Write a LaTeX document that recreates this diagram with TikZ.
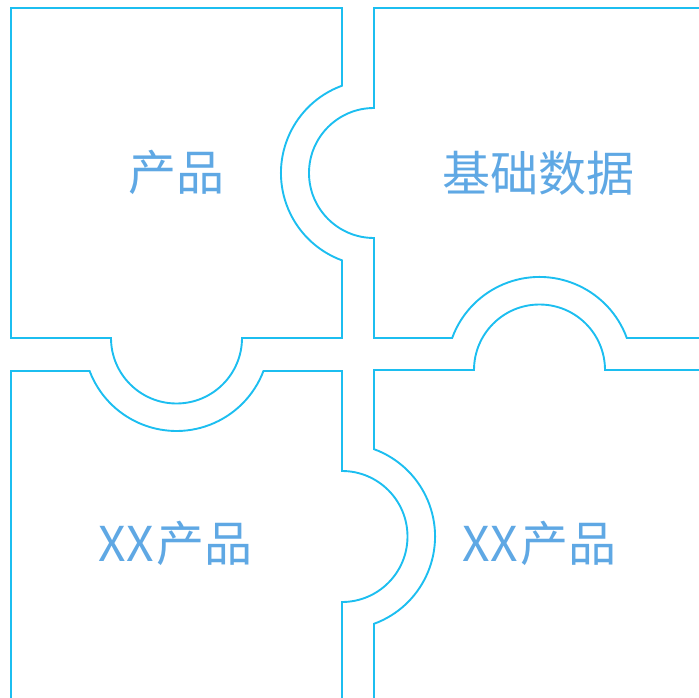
\documentclass[tikz,border=0pt]{standalone}
\usepackage{fontspec}
\newfontfamily\cjk{Noto Sans CJK SC}
\definecolor{edge}{RGB}{28,190,240}
\definecolor{label}{RGB}{95,168,228}
\tikzset{
  piece/.style={draw=edge, line width=1.9bp, line join=miter},
  lbl/.style={text=label, font=\cjk\fontsize{48bp}{56bp}\selectfont, inner sep=0pt, anchor=center}
}
\begin{document}
\begin{tikzpicture}[x=1bp,y=1bp]
\useasboundingbox (0,0) rectangle (699,-698);
\begin{scope}
\clip (0,0) rectangle (699,-698);
% top-left piece
\draw[piece] (11,-8) -- (342,-8) -- (342,-85.7)
  arc[start angle=110.1, end angle=249.9, radius=93] -- (342,-338) -- (242,-338)
  arc[start angle=0, end angle=-180, radius=65.5] -- (11,-338) -- cycle;
% top-right piece
\draw[piece] (374,-8) -- (720,-8) -- (720,-338) -- (626.8,-338)
  arc[start angle=20.1, end angle=159.9, radius=93] -- (374,-338) -- (374,-238)
  arc[start angle=-90, end angle=-270, radius=65] -- (374,-8) -- cycle;
% bottom-left piece
\draw[piece] (11,-371) -- (89.6,-371)
  arc[start angle=200.8, end angle=339.2, radius=93] -- (342,-371) -- (342,-471)
  arc[start angle=90, end angle=-90, radius=65.5] -- (342,-720) -- (11,-720) -- cycle;
% bottom-right piece
\draw[piece] (374,-370) -- (474,-370)
  arc[start angle=180, end angle=0, radius=65.5] -- (720,-370) -- (720,-720) -- (374,-720) -- (374,-623.8)
  arc[start angle=-69.9, end angle=69.9, radius=93] -- cycle;
\end{scope}
\node[lbl] (tl) at (176,-172) {产品};
\node[lbl] (tr) at (538.5,-173) {基础数据};
\node[lbl] (bl) at (175.5,-543) {X\kern1bp X\kern2bp 产品};
\node[lbl] (br) at (539.5,-543) {X\kern1bp X\kern2bp 产品};
\end{tikzpicture}
\end{document}
